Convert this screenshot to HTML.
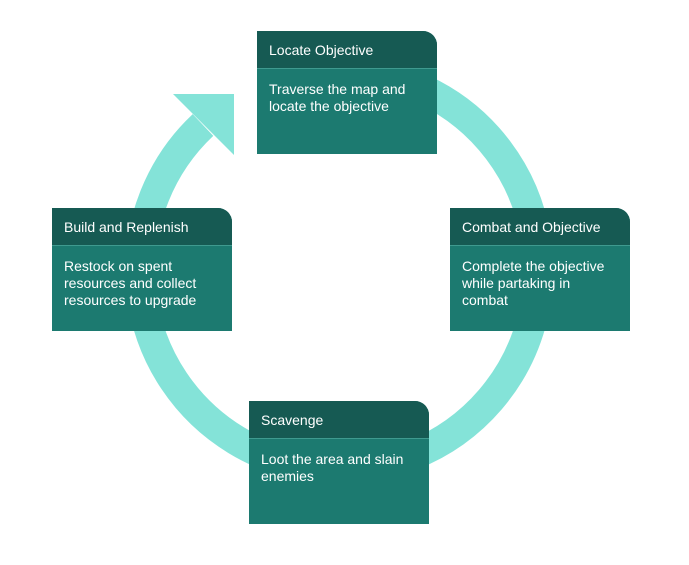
<!DOCTYPE html>
<html><head><style>
body{margin:0;width:689px;height:565px;background:#fff;font-family:"Liberation Sans",Roboto,sans-serif;position:relative;overflow:hidden}
.b{position:absolute;width:180px;height:123px;background:#1c7a70;border-top-right-radius:14px;overflow:hidden;color:#fff}
.h{height:37px;background:#165a53;border-bottom:1px solid #3f9a8f;font-size:14px;line-height:39px;padding-left:12px}
.t{font-size:14px;line-height:17px;padding:12px 12px 0 12px}
</style></head><body>
<svg width="689" height="565" style="position:absolute;left:0;top:0">
<path d="M340 71 A199 199 0 1 1 203 125" fill="none" stroke="#84e3d8" stroke-width="30"/>
<polygon points="173,94 234,94 234,155" fill="#84e3d8"/>
</svg>
<div class="b" style="left:257px;top:31px"><div class="h">Locate Objective</div><div class="t">Traverse the map and locate the objective</div></div>
<div class="b" style="left:52px;top:208px"><div class="h">Build and Replenish</div><div class="t">Restock on spent resources and collect resources to upgrade</div></div>
<div class="b" style="left:450px;top:208px"><div class="h">Combat and Objective</div><div class="t">Complete the objective while partaking in combat</div></div>
<div class="b" style="left:249px;top:401px"><div class="h">Scavenge</div><div class="t">Loot the area and slain enemies</div></div>
</body></html>
